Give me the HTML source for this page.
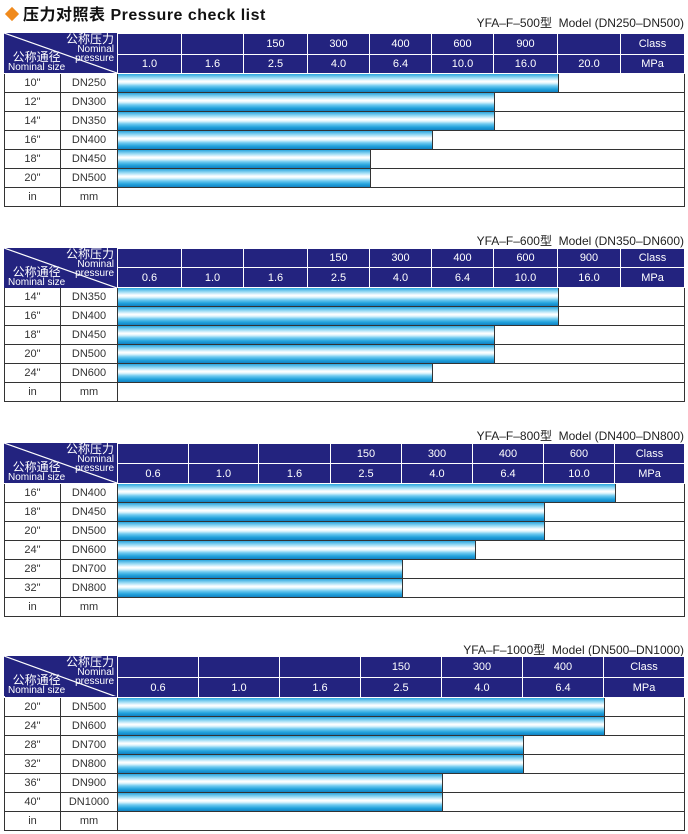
<!DOCTYPE html>
<html><head><meta charset="utf-8">
<style>
*{margin:0;padding:0;box-sizing:border-box}
body{width:688px;height:834px;background:#fff;position:relative;overflow:hidden;font-family:"Liberation Sans","Noto Sans CJK SC",sans-serif}
.title{position:absolute;left:4px;top:1px;font-size:16px;font-weight:bold;color:#111;letter-spacing:0.5px}
.title .dm{display:inline-block;width:10px;height:10px;background:#f08a1c;transform:rotate(45deg);margin:0 6px 1px 3px}
.cap{position:absolute;right:4px;font-size:12px;color:#222}
table{position:absolute;left:4px;width:680px;border-collapse:collapse;table-layout:fixed;font-size:11px}
td{text-align:center;padding:0;overflow:hidden;white-space:nowrap}
tr.h td{background:#23237f;color:#fff;border:1px solid #fff}
tr.d td{border:1px solid #333;color:#333;height:19px}
tr.d td.b{padding:0;position:relative;vertical-align:top}
.bar{height:18px;border-right:1px solid #333;background:linear-gradient(to bottom,#2aa6de 0%,#9ddcf5 22%,#ffffff 40%,#e6f7fd 50%,#6fcaf0 66%,#22a2dc 84%,#1283c4 100%)}
.corner{position:absolute;left:4px;width:113px;height:40px;background:#23237f;color:#fff;overflow:hidden}
.corner svg{position:absolute;left:0;top:0}
.corner .tr{position:absolute;right:3px;top:0px;text-align:right;font-size:12px;line-height:12px}
.corner .tr small{font-size:10px;display:block;line-height:9px}
.corner .bl small{font-size:10px;display:block;line-height:10px}
.corner .bl{position:absolute;left:4px;bottom:0px;font-size:12px;line-height:12px;text-align:center}
</style></head><body>
<div class="title"><span class="dm"></span>压力对照表 Pressure check list</div>

<div class="cap" style="top:14px">YFA–F–500型&nbsp;&nbsp;Model (DN250–DN500)</div>
<table style="top:33px">
<colgroup><col style="width:56px"><col style="width:57px"><col style="width:64px"><col style="width:62px"><col style="width:64px"><col style="width:62px"><col style="width:62px"><col style="width:62px"><col style="width:64px"><col style="width:63px"><col style="width:64px"></colgroup>
<tr class="h" style="height:21px"><td colspan="2" rowspan="2"></td><td></td><td></td><td>150</td><td>300</td><td>400</td><td>600</td><td>900</td><td></td><td>Class</td></tr>
<tr class="h" style="height:19px"><td>1.0</td><td>1.6</td><td>2.5</td><td>4.0</td><td>6.4</td><td>10.0</td><td>16.0</td><td>20.0</td><td>MPa</td></tr>
<tr class="d"><td>10"</td><td>DN250</td><td class="b" colspan="9"><div class="bar" style="width:441px"></div></td></tr>
<tr class="d"><td>12"</td><td>DN300</td><td class="b" colspan="9"><div class="bar" style="width:377px"></div></td></tr>
<tr class="d"><td>14"</td><td>DN350</td><td class="b" colspan="9"><div class="bar" style="width:377px"></div></td></tr>
<tr class="d"><td>16"</td><td>DN400</td><td class="b" colspan="9"><div class="bar" style="width:315px"></div></td></tr>
<tr class="d"><td>18"</td><td>DN450</td><td class="b" colspan="9"><div class="bar" style="width:253px"></div></td></tr>
<tr class="d"><td>20"</td><td>DN500</td><td class="b" colspan="9"><div class="bar" style="width:253px"></div></td></tr>
<tr class="d"><td>in</td><td>mm</td><td colspan="9"></td></tr>
</table>
<div class="corner" style="top:33px"><svg width="113" height="40"><line x1="0" y1="0" x2="113" y2="40" stroke="#fff" stroke-width="1.2"/></svg><div class="tr">公称压力<small>Nominal<br>pressure</small></div><div class="bl">公称通径<small>Nominal size</small></div></div>

<div class="cap" style="top:232px">YFA–F–600型&nbsp;&nbsp;Model (DN350–DN600)</div>
<table style="top:248px">
<colgroup><col style="width:56px"><col style="width:57px"><col style="width:64px"><col style="width:62px"><col style="width:64px"><col style="width:62px"><col style="width:62px"><col style="width:62px"><col style="width:64px"><col style="width:63px"><col style="width:64px"></colgroup>
<tr class="h" style="height:19px"><td colspan="2" rowspan="2"></td><td></td><td></td><td></td><td>150</td><td>300</td><td>400</td><td>600</td><td>900</td><td>Class</td></tr>
<tr class="h" style="height:20px"><td>0.6</td><td>1.0</td><td>1.6</td><td>2.5</td><td>4.0</td><td>6.4</td><td>10.0</td><td>16.0</td><td>MPa</td></tr>
<tr class="d"><td>14"</td><td>DN350</td><td class="b" colspan="9"><div class="bar" style="width:441px"></div></td></tr>
<tr class="d"><td>16"</td><td>DN400</td><td class="b" colspan="9"><div class="bar" style="width:441px"></div></td></tr>
<tr class="d"><td>18"</td><td>DN450</td><td class="b" colspan="9"><div class="bar" style="width:377px"></div></td></tr>
<tr class="d"><td>20"</td><td>DN500</td><td class="b" colspan="9"><div class="bar" style="width:377px"></div></td></tr>
<tr class="d"><td>24"</td><td>DN600</td><td class="b" colspan="9"><div class="bar" style="width:315px"></div></td></tr>
<tr class="d"><td>in</td><td>mm</td><td colspan="9"></td></tr>
</table>
<div class="corner" style="top:248px"><svg width="113" height="40"><line x1="0" y1="0" x2="113" y2="40" stroke="#fff" stroke-width="1.2"/></svg><div class="tr">公称压力<small>Nominal<br>pressure</small></div><div class="bl">公称通径<small>Nominal size</small></div></div>

<div class="cap" style="top:427px">YFA–F–800型&nbsp;&nbsp;Model (DN400–DN800)</div>
<table style="top:443px">
<colgroup><col style="width:56px"><col style="width:57px"><col style="width:71px"><col style="width:70px"><col style="width:72px"><col style="width:71px"><col style="width:71px"><col style="width:71px"><col style="width:71px"><col style="width:70px"></colgroup>
<tr class="h" style="height:20px"><td colspan="2" rowspan="2"></td><td></td><td></td><td></td><td>150</td><td>300</td><td>400</td><td>600</td><td>Class</td></tr>
<tr class="h" style="height:20px"><td>0.6</td><td>1.0</td><td>1.6</td><td>2.5</td><td>4.0</td><td>6.4</td><td>10.0</td><td>MPa</td></tr>
<tr class="d"><td>16"</td><td>DN400</td><td class="b" colspan="8"><div class="bar" style="width:498px"></div></td></tr>
<tr class="d"><td>18"</td><td>DN450</td><td class="b" colspan="8"><div class="bar" style="width:427px"></div></td></tr>
<tr class="d"><td>20"</td><td>DN500</td><td class="b" colspan="8"><div class="bar" style="width:427px"></div></td></tr>
<tr class="d"><td>24"</td><td>DN600</td><td class="b" colspan="8"><div class="bar" style="width:358px"></div></td></tr>
<tr class="d"><td>28"</td><td>DN700</td><td class="b" colspan="8"><div class="bar" style="width:285px"></div></td></tr>
<tr class="d"><td>32"</td><td>DN800</td><td class="b" colspan="8"><div class="bar" style="width:285px"></div></td></tr>
<tr class="d"><td>in</td><td>mm</td><td colspan="8"></td></tr>
</table>
<div class="corner" style="top:443px"><svg width="113" height="40"><line x1="0" y1="0" x2="113" y2="40" stroke="#fff" stroke-width="1.2"/></svg><div class="tr">公称压力<small>Nominal<br>pressure</small></div><div class="bl">公称通径<small>Nominal size</small></div></div>

<div class="cap" style="top:641px">YFA–F–1000型&nbsp;&nbsp;Model (DN500–DN1000)</div>
<table style="top:656px">
<colgroup><col style="width:56px"><col style="width:57px"><col style="width:81px"><col style="width:81px"><col style="width:81px"><col style="width:81px"><col style="width:81px"><col style="width:81px"><col style="width:81px"></colgroup>
<tr class="h" style="height:21px"><td colspan="2" rowspan="2"></td><td></td><td></td><td></td><td>150</td><td>300</td><td>400</td><td>Class</td></tr>
<tr class="h" style="height:20px"><td>0.6</td><td>1.0</td><td>1.6</td><td>2.5</td><td>4.0</td><td>6.4</td><td>MPa</td></tr>
<tr class="d"><td>20"</td><td>DN500</td><td class="b" colspan="7"><div class="bar" style="width:487px"></div></td></tr>
<tr class="d"><td>24"</td><td>DN600</td><td class="b" colspan="7"><div class="bar" style="width:487px"></div></td></tr>
<tr class="d"><td>28"</td><td>DN700</td><td class="b" colspan="7"><div class="bar" style="width:406px"></div></td></tr>
<tr class="d"><td>32"</td><td>DN800</td><td class="b" colspan="7"><div class="bar" style="width:406px"></div></td></tr>
<tr class="d"><td>36"</td><td>DN900</td><td class="b" colspan="7"><div class="bar" style="width:325px"></div></td></tr>
<tr class="d"><td>40"</td><td>DN1000</td><td class="b" colspan="7"><div class="bar" style="width:325px"></div></td></tr>
<tr class="d"><td>in</td><td>mm</td><td colspan="7"></td></tr>
</table>
<div class="corner" style="top:656px"><svg width="113" height="41"><line x1="0" y1="0" x2="113" y2="41" stroke="#fff" stroke-width="1.2"/></svg><div class="tr">公称压力<small>Nominal<br>pressure</small></div><div class="bl">公称通径<small>Nominal size</small></div></div>
</body></html>
